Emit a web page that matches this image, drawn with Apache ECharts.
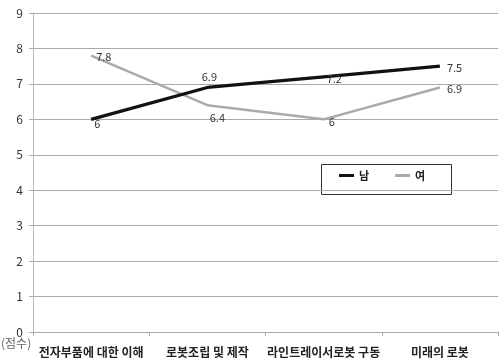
<!DOCTYPE html>
<html>
<head>
<meta charset="utf-8">
<script src="https://cdn.jsdelivr.net/npm/echarts@6/dist/echarts.min.js"></script>
<style>
  html, body { margin: 0; padding: 0; background: #fff; }
  #chart { width: 501px; height: 363px; }
</style>
</head>
<body>
<div id="chart"></div>
<script>
// Categories and scores
const categories = ['전자부품에 대한 이해', '로봇조립 및 제작', '라인트레이서로봇 구동', '미래의 로봇'];
const maleScores = [6, 6.9, 7.2, 7.5];
const femaleScores = [7.8, 6.4, 6, 6.9];
const yTicks = [0, 1, 2, 3, 4, 5, 6, 7, 8, 9];

const FONT = '"Noto Sans CJK KR", "Noto Sans", sans-serif';

// Per-point label placement
const malePos = [
  { position: 'right', offset: [-2, 4] },
  { position: 'top', offset: [2, 0] },
  { position: 'right', offset: [-2, 2] },
  { position: 'right', offset: [2, 2] }
];
const femalePos = [
  { position: 'right', offset: [0, 1] },
  { position: 'bottom', offset: [10, 2] },
  { position: 'right', offset: [0, 2] },
  { position: 'right', offset: [2, 1] }
];

function withLabels(values, pos) {
  return values.map((v, i) => ({
    value: v,
    label: Object.assign({ show: true }, pos[i])
  }));
}

const chart = echarts.init(document.getElementById('chart'));
chart.setOption({
  animation: false,
  grid: { left: 33, right: 3, top: 13, bottom: 31, containLabel: false, outerBoundsMode: 'none' },
  legend: {
    left: 339, top: 170,
    padding: 0,
    itemWidth: 15, itemHeight: 3, itemGap: 26,
    icon: 'rect',
    textStyle: { fontFamily: FONT, fontSize: 11, color: '#222', fontWeight: 'bold' },
    data: ['남', '여']
  },
  xAxis: {
    type: 'category',
    data: categories,
    boundaryGap: true,
    axisLine: { lineStyle: { color: '#aaa', width: 1 } },
    axisTick: { show: true, length: 4, lineStyle: { color: '#aaa' } },
    axisLabel: { fontFamily: FONT, fontSize: 12, fontWeight: 'bold', color: '#222', margin: 14, interval: 0 }
  },
  yAxis: {
    type: 'value',
    min: yTicks[0], max: yTicks[yTicks.length - 1], interval: 1,
    axisLine: { show: true, lineStyle: { color: '#bbb', width: 1 } },
    axisTick: { show: true, length: 4, inside: false, lineStyle: { color: '#aaa' } },
    axisLabel: { fontFamily: FONT, fontSize: 12, color: '#333', margin: 10 },
    splitLine: { lineStyle: { color: '#aaa', width: 1 } }
  },
  graphic: [
    {
      type: 'rect', left: 319, top: 162,
      shape: { width: 130, height: 30 },
      style: { fill: 'none', stroke: '#333', lineWidth: 1 }
    },
    {
      type: 'text', left: 1, top: 337,
      style: { text: '(점수)', font: '12px ' + FONT, fill: '#666' }
    }
  ],
  series: [
    {
      name: '남', type: 'line',
      data: withLabels(maleScores, malePos),
      symbol: 'circle', symbolSize: 0, showSymbol: true,
      itemStyle: { color: '#111' },
      lineStyle: { color: '#111', width: 3.2 },
      label: { show: true, fontFamily: FONT, fontSize: 11, color: '#333' },
      z: 3
    },
    {
      name: '여', type: 'line',
      data: withLabels(femaleScores, femalePos),
      symbol: 'circle', symbolSize: 0, showSymbol: true,
      itemStyle: { color: '#aaa' },
      lineStyle: { color: '#aaa', width: 2.5 },
      label: { show: true, fontFamily: FONT, fontSize: 11, color: '#333' },
      z: 2
    }
  ]
});
</script>
</body>
</html>
